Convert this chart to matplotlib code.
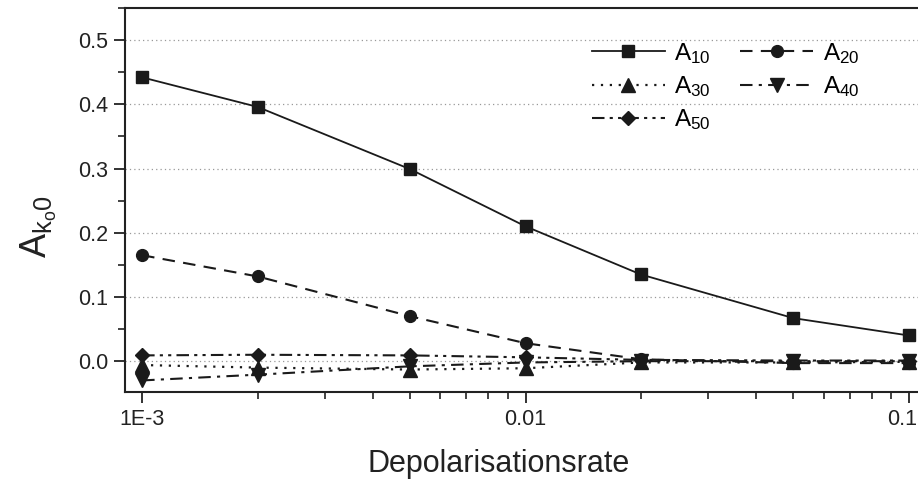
import numpy as np
import matplotlib
matplotlib.use("Agg")
import matplotlib.pyplot as plt
from matplotlib.ticker import MultipleLocator, FixedLocator, LogLocator, NullFormatter

plt.rcParams['font.family'] = ['Liberation Sans', 'DejaVu Sans']
plt.rcParams['mathtext.fontset'] = 'custom'
plt.rcParams['mathtext.rm'] = 'Liberation Sans'
plt.rcParams['mathtext.it'] = 'Liberation Sans'

# Depolarisationsrate (x) und Amplituden
rate = [0.001, 0.002, 0.005, 0.01, 0.02, 0.05, 0.1]
a10 = [0.442, 0.396, 0.299, 0.210, 0.135, 0.067, 0.040]
a20 = [0.165, 0.132, 0.070, 0.028, 0.003, -0.003, -0.003]
a30 = [-0.006, -0.010, -0.013, -0.011, -0.002, -0.002, -0.001]
a40 = [-0.030, -0.021, -0.008, -0.002, 0.000, 0.000, 0.000]
a50 = [0.009, 0.010, 0.009, 0.006, 0.002, 0.001, 0.001]

xticks = [0.001, 0.01, 0.1]
xticklabels = ['1E-3', '0.01', '0.1']

fig = plt.figure(figsize=(9.18, 4.86), dpi=100)
ax = fig.add_axes([125/918, 1-392/486, 800/918, 384/486])

k = '#1a1a1a'
ms = 8.5
h10, = ax.plot(rate, a10, color=k, lw=1.3, ls='-', marker='s', ms=ms, label=r'$\mathregular{A_{10}}$')
h20, = ax.plot(rate, a20, color=k, lw=1.5, ls=(0, (6, 4)), marker='o', ms=ms, label=r'$\mathregular{A_{20}}$')
h30, = ax.plot(rate, a30, color=k, lw=1.6, ls=(0, (1, 3)), marker='^', ms=ms+1, label=r'$\mathregular{A_{30}}$')
h40, = ax.plot(rate, a40, color=k, lw=1.5, ls=(0, (6, 3, 1.5, 3)), marker='v', ms=ms+1, label=r'$\mathregular{A_{40}}$')
h50, = ax.plot(rate, a50, color=k, lw=1.5, ls=(0, (6, 2.5, 1.5, 2.5, 1.5, 2.5)), marker='D', ms=ms-1, label=r'$\mathregular{A_{50}}$')

ax.set_xscale('log')
ax.set_xlim(10**(-3 - 17/381), 10**((920 - 142)/381 - 3))
ax.set_ylim(-0.048, 0.55)

ax.xaxis.set_major_locator(FixedLocator(xticks))
ax.set_xticklabels(xticklabels[:-1] + [''])
ax.xaxis.set_minor_locator(LogLocator(base=10, subs=np.arange(2, 10)))
ax.xaxis.set_minor_formatter(NullFormatter())
ax.yaxis.set_major_locator(MultipleLocator(0.1))
ax.yaxis.set_minor_locator(MultipleLocator(0.05))
ax.yaxis.set_major_formatter(matplotlib.ticker.FormatStrFormatter('%.1f'))

ax.tick_params(which='major', direction='out', length=8, width=1.3, labelsize=15.5, colors='#222222', pad=4)
ax.tick_params(which='minor', direction='out', length=5, width=1.2, colors='#222222')
for s in ax.spines.values():
    s.set_linewidth(1.5)
    s.set_color('#222222')

# letztes Label etwas nach links, damit es nicht abgeschnitten wird
ax.annotate(xticklabels[-1], xy=(xticks[-1], 0), xycoords=('data', 'axes fraction'),
            xytext=(-5, -12), textcoords='offset points', ha='center', va='top',
            fontsize=15.5, color='#222222')

ax.grid(True, which='major', axis='y', ls=(0, (1, 2.5)), color='#999999', lw=0.9)
ax.set_axisbelow(True)

ax.set_xlabel('Depolarisationsrate', fontsize=22, color='#222222')
ax.xaxis.set_label_coords(0.4675, -0.148)
ax.set_ylabel(r'$\mathregular{A_{k_o0}}$', fontsize=26, color='#222222')
ax.yaxis.set_label_coords(-0.082, 0.43)

ax.legend(handles=[h10, h30, h50, h20, h40], ncol=2, frameon=False, fontsize=17.5,
          loc='upper right', bbox_to_anchor=(0.93, 0.94), handlelength=3.0,
          handletextpad=0.4, columnspacing=1.2, labelspacing=0.35, borderaxespad=0)

fig.savefig('out.png', dpi=100)
